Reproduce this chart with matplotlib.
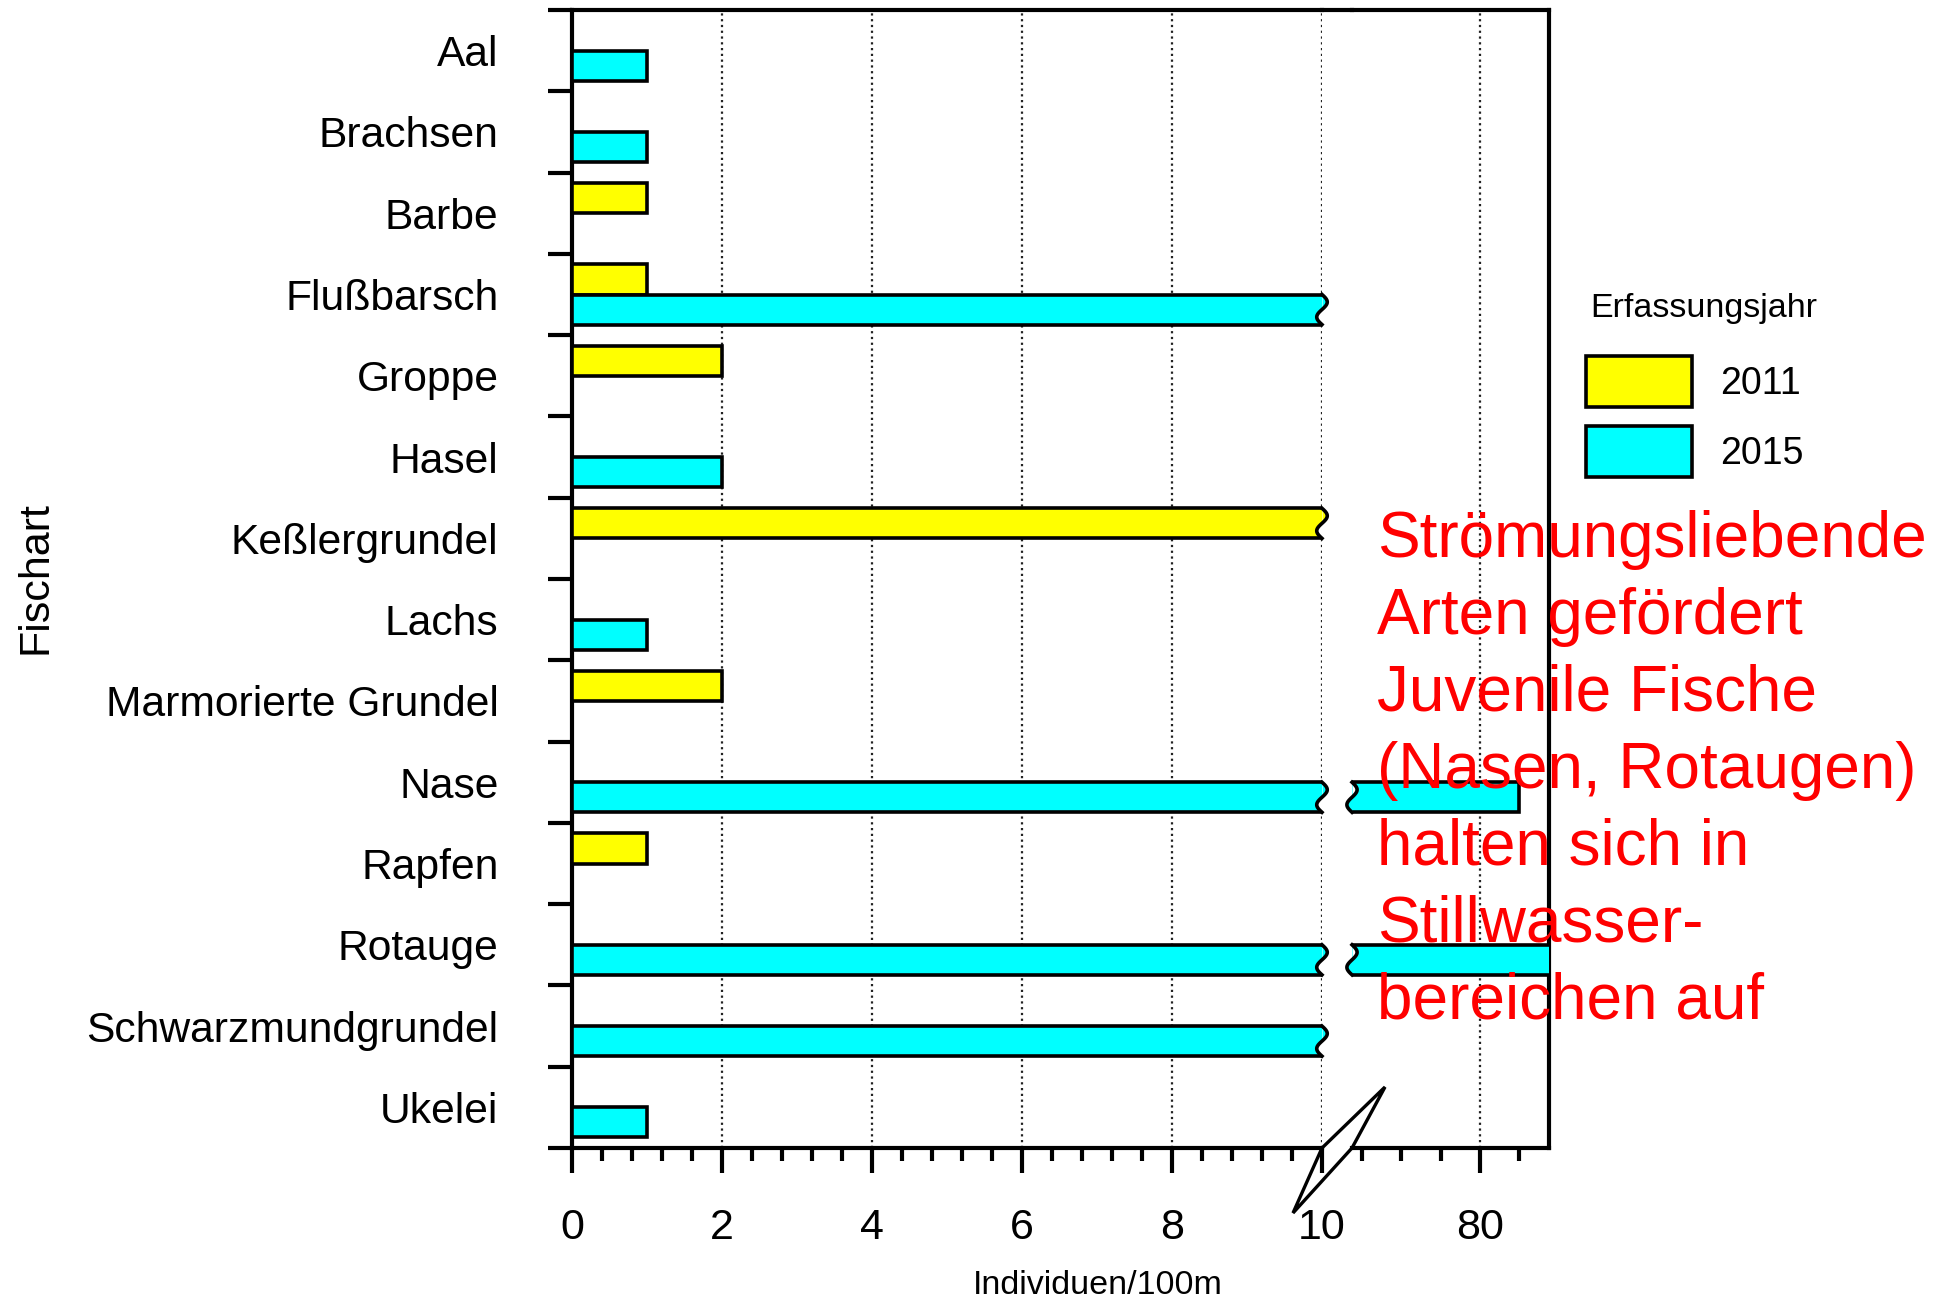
import numpy as np
import matplotlib
matplotlib.use("Agg")
import matplotlib.pyplot as plt
from matplotlib.lines import Line2D
from matplotlib.patches import Polygon
from matplotlib.ticker import MultipleLocator

plt.rcParams["font.family"] = ["Liberation Sans", "DejaVu Sans"]

species = [
    "Aal", "Brachsen", "Barbe", "Flußbarsch", "Groppe", "Hasel", "Keßlergrundel",
    "Lachs", "Marmorierte Grundel", "Nase", "Rapfen", "Rotauge",
    "Schwarzmundgrundel", "Ukelei",
]
values_2011 = [0, 0, 1, 1, 2, 0, 15, 0, 2, 0, 1, 0, 0, 0]
values_2015 = [1, 1, 0, 25, 0, 2, 0, 1, 0, 90, 0, 105, 30, 1]
years = ["2011", "2015"]
note = ("Strömungsliebende\nArten gefördert\nJuvenile Fische\n(Nasen, Rotaugen)\n"
        "halten sich in\nStillwasser-\nbereichen auf")

YELLOW = "#ffff00"
CYAN = "#00ffff"
W, H = 1951, 1301
LW = 3.0


def fx(px):
    return px / W


def fy(py):
    return 1 - py / H


fig = plt.figure(figsize=(W / 100, H / 100), dpi=100, facecolor="white")
ax_l = fig.add_axes([fx(572), fy(1148), fx(1322) - fx(572), fy(10) - fy(1148)])
ax_r = fig.add_axes([fx(1352), fy(1148), fx(1549) - fx(1352), fy(10) - fy(1148)])

ypos = np.arange(len(species))
bar_h = 0.37
series = [
    (np.asarray(values_2011, float), -bar_h / 2, YELLOW, years[0]),
    (np.asarray(values_2015, float), bar_h / 2, CYAN, years[1]),
]

for ax in (ax_l, ax_r):
    ax.patch.set_visible(False)
    for vals, offset, color, label in series:
        keep = vals > 0
        ax.barh(ypos[keep] + offset, vals[keep], height=bar_h, color=color,
                edgecolor="black", linewidth=2.6, label=label, zorder=3)
    ax.set_ylim(len(species) - 0.5, -0.5)
    ax.set_axisbelow(True)
    ax.grid(axis="x", which="major", linestyle=(0, (1, 1.6)), color="#222222", linewidth=1.6)
    for spine in ax.spines.values():
        spine.set_linewidth(LW)

ax_l.set_xlim(0, 10)
ax_r.set_xlim(47.4, 97.7)


def wavy_edges(ax, x_edge, amp, side):
    t = np.linspace(0, 1, 60)
    for cont in ax.containers:
        for bar in cont.patches:
            x0, x1 = bar.get_x(), bar.get_x() + bar.get_width()
            if not (x0 < x_edge < x1):
                continue
            ys = bar.get_y() + bar.get_height() * t
            xs = x_edge + amp * np.sin(2 * np.pi * t)
            fc = bar.get_facecolor()
            if side == "right":
                ax.fill_betweenx(ys, x_edge, np.maximum(xs, x_edge), color=fc, lw=0, clip_on=False, zorder=3.5)
                ax.fill_betweenx(ys, np.minimum(xs, x_edge), x_edge, color="white", lw=0, clip_on=False, zorder=3.5)
            else:
                ax.fill_betweenx(ys, np.minimum(xs, x_edge), x_edge, color=fc, lw=0, clip_on=False, zorder=3.5)
                ax.fill_betweenx(ys, x_edge, np.maximum(xs, x_edge), color="white", lw=0, clip_on=False, zorder=3.5)
            ax.plot(xs, ys, color="black", lw=2.6, clip_on=False, zorder=4)


wavy_edges(ax_l, 10, 0.07, "right")
wavy_edges(ax_r, 47.4, 1.3, "left")

# left axes: ticks and labels
ax_l.spines["right"].set_visible(False)
ax_l.set_xticks(np.arange(0, 11, 2))
ax_l.xaxis.set_minor_locator(MultipleLocator(0.4))
ax_l.set_yticks(np.arange(len(species) + 1) - 0.5, labels=[])
ax_l.set_yticks(ypos, species, minor=True)
ax_l.tick_params(axis="x", which="major", length=18, width=LW, labelsize=31, pad=25)
ax_l.tick_params(axis="x", which="minor", length=9, width=LW)
ax_l.tick_params(axis="y", which="major", length=17, width=LW)
ax_l.tick_params(axis="y", which="minor", length=0, labelsize=30.7, pad=53)

# right axes
ax_r.spines["left"].set_visible(False)
ax_r.set_xticks([80])
ax_r.set_xticks([50, 60, 70, 90], minor=True)
ax_r.set_yticks([])
ax_r.tick_params(axis="x", which="major", length=18, width=LW, labelsize=31, pad=25)
ax_r.tick_params(axis="x", which="minor", length=9, width=LW)

# top spine across the break and the break mark on the x axis
fig.add_artist(Line2D([fx(1322), fx(1352)], [fy(10), fy(10)], color="black", lw=LW))
brk = Polygon([(fx(1293), fy(1213)), (fx(1322), fy(1148)), (fx(1385), fy(1087)), (fx(1352), fy(1148))],
              closed=True, facecolor="white", edgecolor="black", lw=2.4,
              transform=fig.transFigure, zorder=-1)
fig.add_artist(brk)

fig.text(fx(35), fy(578), "Fischart", rotation=90, fontsize=31, ha="center", va="center")
fig.text(fx(1098), fy(1286), "Individuen/100m", fontsize=24.5, ha="center", va="center")

# legend: title as its own text, patches and years below
fig.text(fx(1590), fy(308), "Erfassungsjahr", fontsize=24.5, ha="left", va="center")
handles = [ax_l.containers[0], ax_l.containers[1]]
fig.legend(handles, years, loc="upper left",
           bbox_to_anchor=(fx(1586), fy(356)), frameon=False, fontsize=27,
           handlelength=2.83, handleheight=1.72, handletextpad=0.75,
           labelspacing=0.5, borderpad=0, borderaxespad=0)

fig.text(fx(1377), fy(510), note, color="#ff0000", fontsize=46, ha="left", va="top",
         linespacing=1.36, zorder=10)

fig.savefig("out.png", dpi=100, facecolor="white")
